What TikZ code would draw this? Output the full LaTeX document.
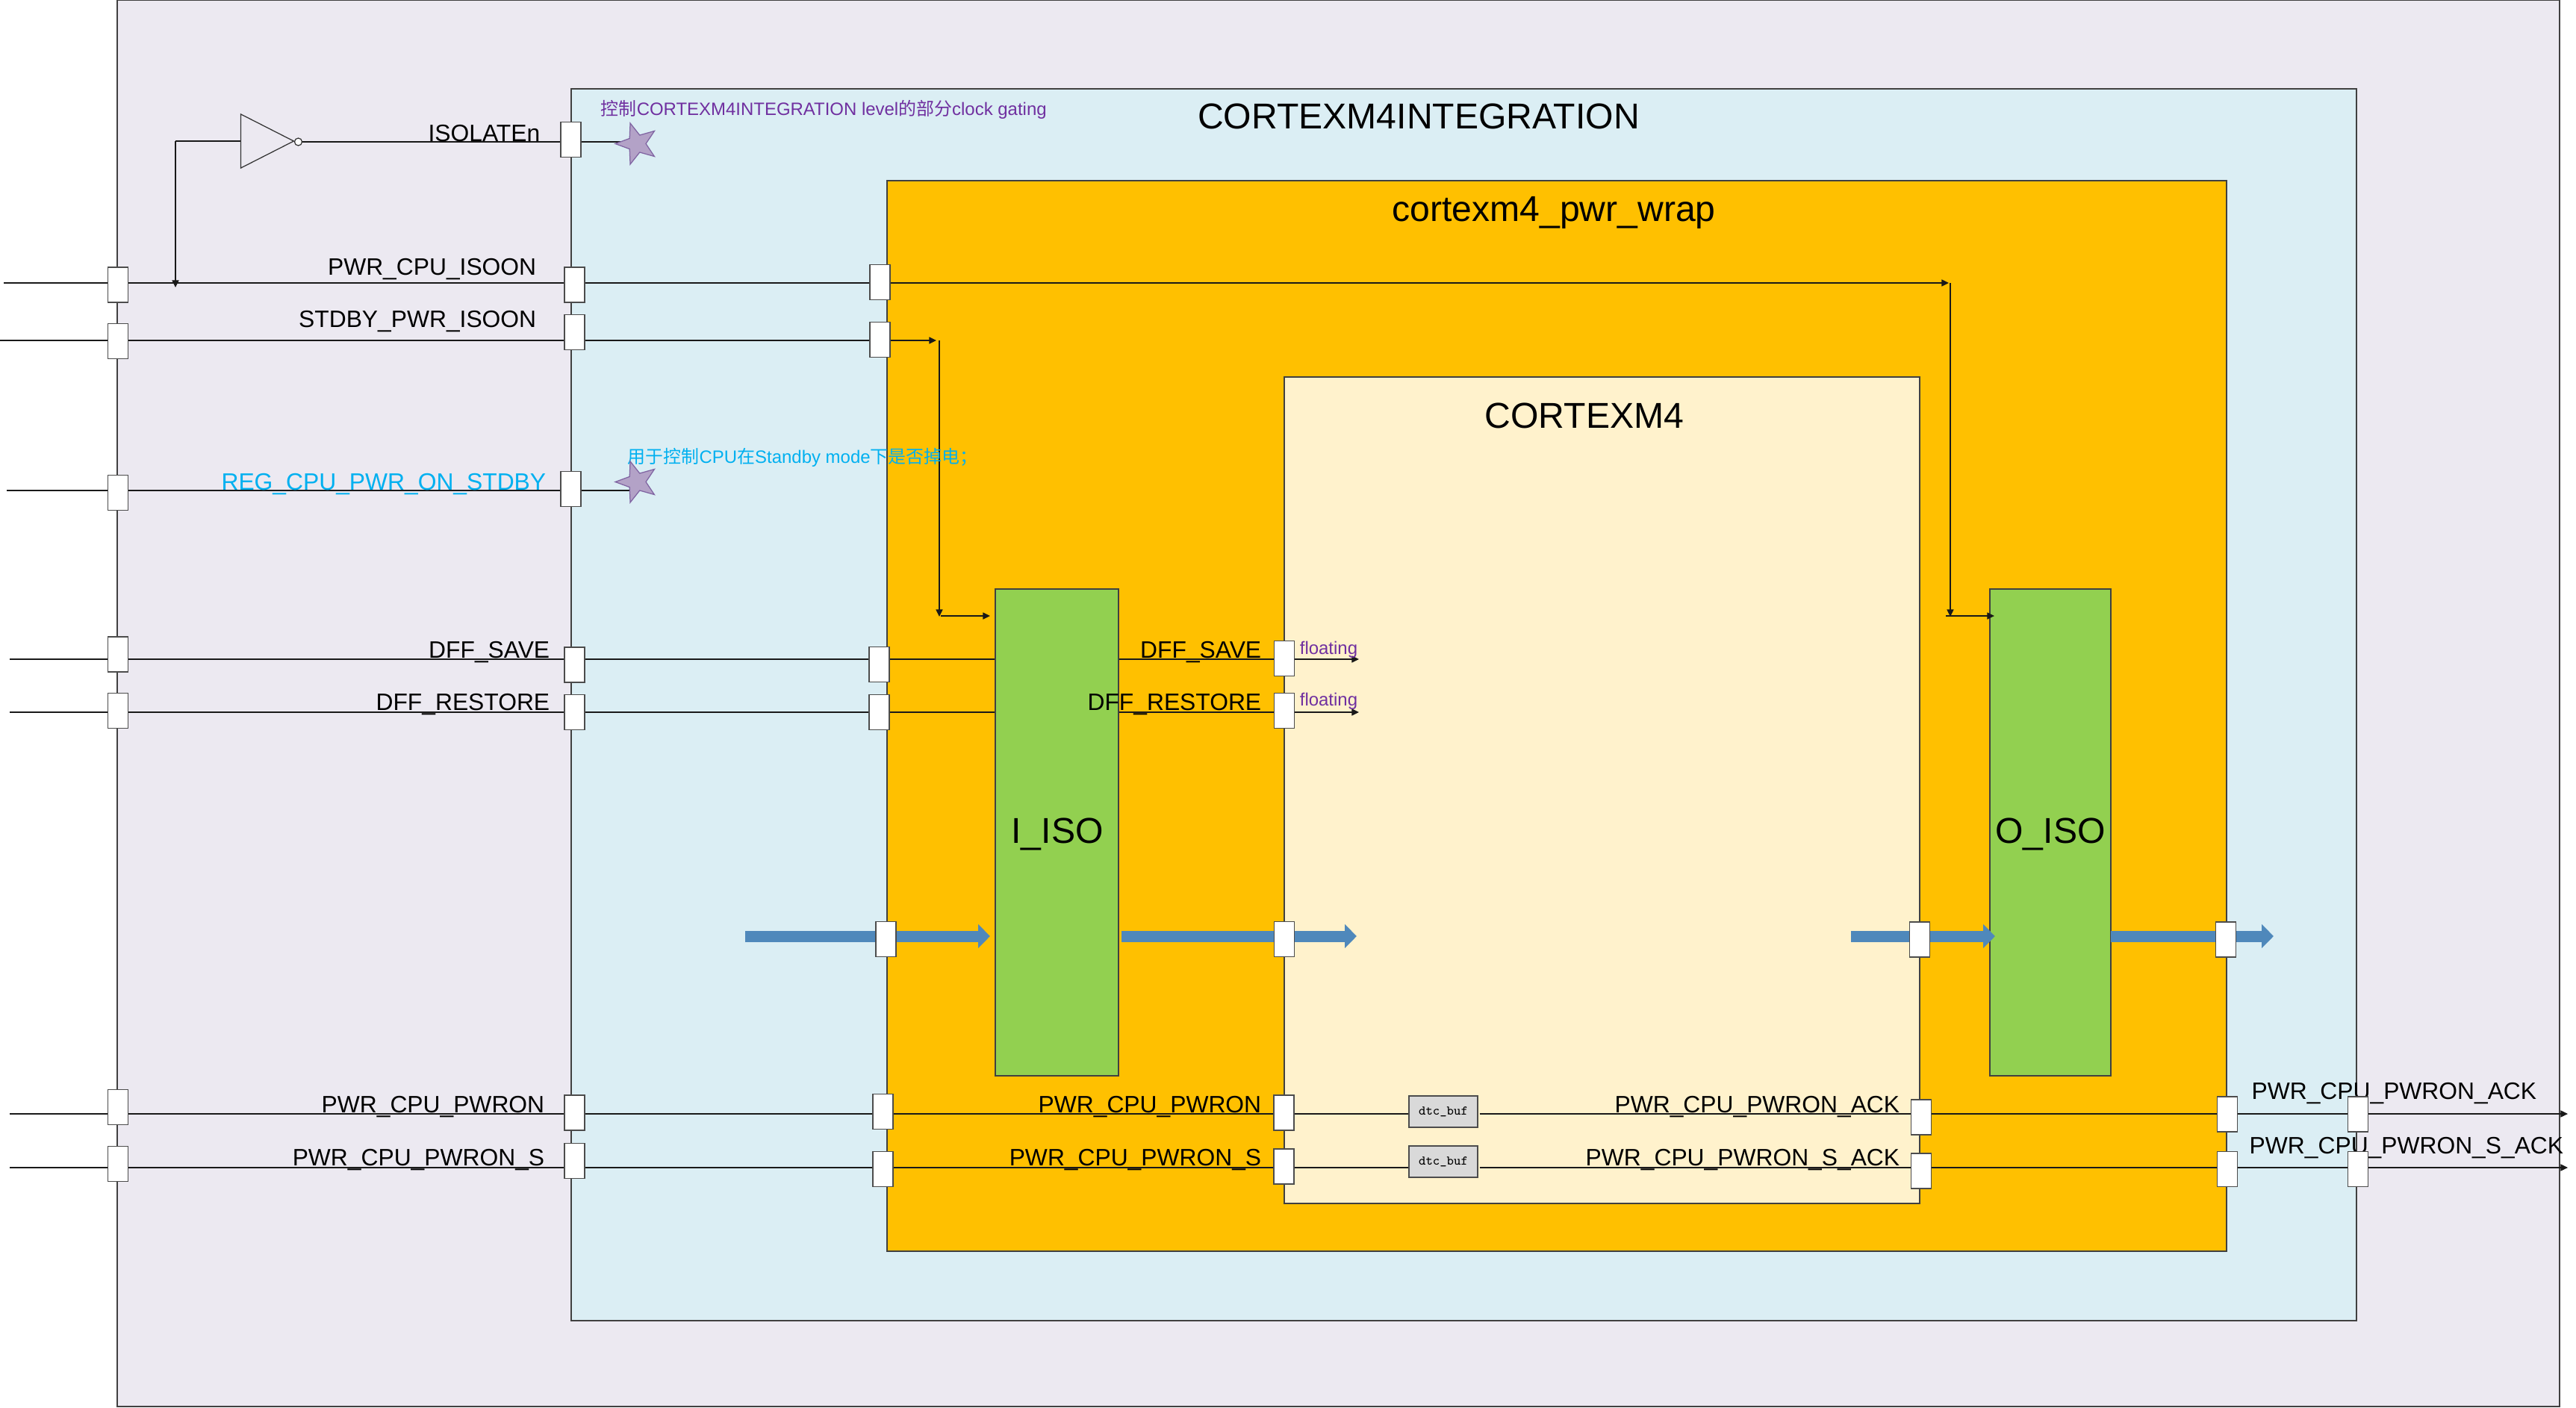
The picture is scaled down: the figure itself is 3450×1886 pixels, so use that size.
\documentclass[tikz,border=0pt]{standalone}
\usepackage{fontspec}
\setmainfont{Liberation Sans}
\newfontfamily\cjkfont{Noto Sans CJK SC}
\usetikzlibrary{arrows.meta,fit,shapes.geometric}
\definecolor{topfill}{HTML}{ECE9F1}
\definecolor{intfill}{HTML}{DBEEF4}
\definecolor{wrapfill}{HTML}{FFC000}
\definecolor{corefill}{HTML}{FFF2CC}
\definecolor{isofill}{HTML}{92D050}
\definecolor{bufill}{HTML}{D9D9D9}
\definecolor{busblue}{HTML}{4F88BB}
\definecolor{notepurple}{HTML}{7030A0}
\definecolor{notecyan}{HTML}{00B0F0}
\definecolor{starfill}{HTML}{B3A2C7}
\definecolor{starline}{HTML}{8064A2}
\newcommand{\zh}[1]{{\cjkfont #1}}
\pgfdeclarelayer{blocks}
\pgfdeclarelayer{wires}
\pgfsetlayers{blocks,wires,main}
\tikzset{
	block/.style={draw=black!75, line width=0.35pt, inner sep=0pt},
	port/.style={draw=black!70, fill=white, line width=0.35pt, inner sep=0pt, minimum width=6.5pt, minimum height=11.3pt},
	wire/.style={line width=0.26pt, black!90},
	sig/.style={font=\fontsize{7.63}{9}\selectfont, inner sep=0pt, anchor=base east},
	title/.style={font=\fontsize{11.55}{14}\selectfont, inner sep=0pt, anchor=base},
	note/.style={font=\fontsize{5.75}{7}\selectfont, inner sep=0pt, anchor=base west},
	bus/.style={line width=3.6pt, busblue, -{Triangle[length=3.8pt,width=7.4pt]}},
	mark star/.style={star, star points=5, star point ratio=2.4, shape border rotate=90, draw=starline, fill=starfill, line width=0.3pt, inner sep=0pt, minimum size=13.9pt},
	buf/.style={draw=black!70, fill=bufill, line width=0.35pt, inner sep=0pt, minimum width=22pt, minimum height=10.1pt, font=\fontsize{4.25}{5}\ttfamily},
	>={Triangle[length=2.3pt,width=2.2pt]}
}
\begin{document}
\begin{tikzpicture}[x=0.24pt,y=-0.24pt]
	\useasboundingbox (0,1) rectangle (3450,1887);
	\begin{pgfonlayer}{blocks}
		\node [block, fill=topfill, fit={(157,1)(3428,1885)}] (top) {};
		\node [block, fill=intfill, fit={(765,120)(3156,1770)}] (integration) {};
		\node [block, fill=wrapfill, fit={(1188,243)(2982,1677)}] (wrap) {};
		\node [block, fill=corefill, fit={(1720,506)(2571,1613)}] (core) {};
		\node [block, fill=isofill, fit={(1333,790)(1498,1442)}] (iiso) {};
		\node [block, fill=isofill, fit={(2665,790)(2827,1442)}] (oiso) {};
	\end{pgfonlayer}
	%%%%%%%%%%%%%
	\node [title] (tInt) at (1900,173) {CORTEXM4INTEGRATION};
	\node [title] (tWrap) at (2081,297) {cortexm4\_pwr\_wrap};
	\node [title] (tCore) at (2122,574) {CORTEXM4};
	\node [title] (tIiso) at (1416,1130) {I\_ISO};
	\node [title] (tOiso) at (2746,1130) {O\_ISO};
	%%%%%%%%%%%%%
	\node [sig] (lIsoEn) at (724,190) {ISOLATEn};
	\node [sig] (lIsoon) at (719,369) {PWR\_CPU\_ISOON};
	\node [sig] (lStdby) at (719,439) {STDBY\_PWR\_ISOON};
	\node [sig, notecyan] (lReg) at (732,657) {REG\_CPU\_PWR\_ON\_STDBY};
	\node [sig] (lSave) at (737,882) {DFF\_SAVE};
	\node [sig] (lRest) at (737,952) {DFF\_RESTORE};
	\node [sig] (lPwr) at (730,1491) {PWR\_CPU\_PWRON};
	\node [sig] (lPwrS) at (730,1562) {PWR\_CPU\_PWRON\_S};
	\node [sig] (cSave) at (1690,882) {DFF\_SAVE};
	\node [sig] (cRest) at (1690,952) {DFF\_RESTORE};
	\node [sig] (cPwr) at (1690,1491) {PWR\_CPU\_PWRON};
	\node [sig] (cPwrS) at (1690,1562) {PWR\_CPU\_PWRON\_S};
	\node [sig] (cAck) at (2545,1491) {PWR\_CPU\_PWRON\_ACK};
	\node [sig] (cAckS) at (2545,1562) {PWR\_CPU\_PWRON\_S\_ACK};
	\node [sig] (oAck) at (3398,1473) {PWR\_CPU\_PWRON\_ACK};
	\node [sig] (oAckS) at (3434,1546) {PWR\_CPU\_PWRON\_S\_ACK};
	%%%%%%%%%%%%%
	\node [note, notepurple] (nClk) at (804,155) {\zh{控制}CORTEXM4INTEGRATION level\zh{的部分}clock gating};
	\node [note, notecyan] (nStdby) at (840,621) {\zh{用于控制}CPU\zh{在}Standby mode\zh{下是否掉电；}};
	\node [note, notepurple] (nFl) at (1740,877) {floating};
	\node [note, notepurple] (nFm) at (1740,946) {floating};
	%%%%%%%%%%%%%
	\node [mark star] (starA) at (853,193.5) {};
	\node [mark star] (starB) at (853,646.5) {};
	\node [draw=black!80, isosceles triangle, isosceles triangle stretches, line width=0.3pt, inner sep=0pt, minimum width=17.3pt, minimum height=17pt, anchor=apex] (inv) at (395,190) {};
	\node [draw=black!80, fill=white, circle, line width=0.3pt, inner sep=0pt, minimum size=2.4pt] (bub) at (399.5,191) {};
	\node [buf] (bufA) at (1933,1490) {dtc\_buf};
	\node [buf] (bufB) at (1933,1557) {dtc\_buf};
	%%%%%%%%%%%%%
	\node [port] (pIsoEn) at (764.5,188) {};
	\node [port] (pIsoonL) at (158,382.5) {};
	\node [port] (pIsoonB) at (769.5,382.5) {};
	\node [port] (pIsoonO) at (1178.5,379) {};
	\node [port] (pStdbyL) at (158,458) {};
	\node [port] (pStdbyB) at (769.5,446) {};
	\node [port] (pStdbyO) at (1178.5,456) {};
	\node [port] (pRegL) at (158,661) {};
	\node [port] (pRegB) at (764.5,656) {};
	\node [port] (pSaveL) at (158,877.5) {};
	\node [port] (pSaveB) at (769.5,891.5) {};
	\node [port] (pSaveO) at (1177.5,891) {};
	\node [port] (pSaveC) at (1720,883) {};
	\node [port] (pRestL) at (158,953) {};
	\node [port] (pRestB) at (769.5,955) {};
	\node [port] (pRestO) at (1177.5,955) {};
	\node [port] (pRestC) at (1720,953) {};
	\node [port] (pBusO) at (1186.5,1259) {};
	\node [port] (pBusC) at (1720,1259) {};
	\node [port] (pBusD) at (2571,1259.5) {};
	\node [port] (pBusE) at (2981,1259.5) {};
	\node [port] (pPwrL) at (158,1484) {};
	\node [port] (pPwrB) at (769.5,1491.5) {};
	\node [port] (pPwrO) at (1182.5,1490) {};
	\node [port] (pPwrC) at (1719.5,1491.5) {};
	\node [port] (pPwrSL) at (158,1560) {};
	\node [port] (pPwrSB) at (769.5,1556) {};
	\node [port] (pPwrSO) at (1182.5,1567) {};
	\node [port] (pPwrSC) at (1719.5,1563.5) {};
	\node [port] (pAckC) at (2573,1497.5) {};
	\node [port] (pAckO) at (2983,1493.5) {};
	\node [port] (pAckB) at (3158,1493.5) {};
	\node [port] (pAckSC) at (2573,1569.5) {};
	\node [port] (pAckSO) at (2983,1567) {};
	\node [port] (pAckSB) at (3158,1567) {};
	%%%%%%%%%%%%%
	\coordinate (isoonIn) at (5,380);
	\coordinate (isoonTap) at (235,386);
	\coordinate (isoonEnd) at (2610,380);
	\coordinate (outTurn) at (2612,380);
	\coordinate (outDown) at (2612,827);
	\coordinate (outFrom) at (2606,826);
	\coordinate (outTo) at (2671,826);
	\coordinate (invIn) at (235,191);
	\coordinate (stdbyIn) at (0,457);
	\coordinate (stdbyEnd) at (1254,457);
	\coordinate (inTurn) at (1258,457);
	\coordinate (inDown) at (1258,827);
	\coordinate (inFrom) at (1260,826);
	\coordinate (inTo) at (1326,826);
	\coordinate (regIn) at (9,658);
	\coordinate (saveIn) at (13,884);
	\coordinate (saveEnd) at (1820,884);
	\coordinate (restIn) at (13,955);
	\coordinate (restEnd) at (1820,955);
	\coordinate (pwrIn) at (13,1493);
	\coordinate (pwrSIn) at (13,1565);
	\coordinate (ackOut) at (3439,1493);
	\coordinate (ackSOut) at (3439,1565);
	\coordinate (busA) at (998,1255);
	\coordinate (busATo) at (1326,1255);
	\coordinate (busB) at (1502,1255);
	\coordinate (busBTo) at (1817,1255);
	\coordinate (busC) at (2479,1255);
	\coordinate (busCTo) at (2672,1255);
	\coordinate (busD) at (2827,1255);
	\coordinate (busDTo) at (3045,1255);
	%%%%%%%%%%%%%
	\begin{pgfonlayer}{wires}
		\draw [wire] (bub.east) -- (bub.east -| pIsoEn.center) -- (bub.east -| starA.center);
		\draw [wire] (inv.lower side) to (inv.lower side -| invIn);
		\draw [wire, ->] (inv.lower side -| invIn) to (isoonTap);
		\draw [wire, ->] (isoonIn) -- (isoonIn -| pIsoonL.center) -- (isoonIn -| pIsoonB.center) -- (isoonIn -| pIsoonO.center) -- (isoonEnd);
		\draw [wire, ->] (outTurn) to (outDown);
		\draw [wire, ->] (outFrom) to (outTo);
		\draw [wire, ->] (stdbyIn) -- (stdbyIn -| pStdbyL.center) -- (stdbyIn -| pStdbyB.center) -- (stdbyIn -| pStdbyO.center) -- (stdbyEnd);
		\draw [wire, ->] (inTurn) to (inDown);
		\draw [wire, ->] (inFrom) to (inTo);
		\draw [wire] (regIn) -- (regIn -| pRegL.center) -- (regIn -| pRegB.center) -- (regIn -| starB.center);
		%%%%%%%%%%%%%
		\draw [wire] (saveIn) -- (saveIn -| pSaveL.center) -- (saveIn -| pSaveB.center) -- (saveIn -| pSaveO.center) -- (saveIn -| iiso.west);
		\draw [wire, ->] (saveIn -| iiso.east) -- (saveIn -| pSaveC.center) -- (saveEnd);
		\draw [wire] (restIn) -- (restIn -| pRestL.center) -- (restIn -| pRestB.center) -- (restIn -| pRestO.center) -- (restIn -| iiso.west);
		\draw [wire, ->] (restIn -| iiso.east) -- (restIn -| pRestC.center) -- (restEnd);
		%%%%%%%%%%%%%
		\draw [wire] (pwrIn) -- (pwrIn -| pPwrL.center) -- (pwrIn -| pPwrB.center) -- (pwrIn -| pPwrO.center) -- (pwrIn -| pPwrC.center) -- (pwrIn -| bufA.west);
		\draw [wire, ->] (pwrIn -| bufA.east) ++(2,0) -- (pwrIn -| pAckC.center) -- (pwrIn -| pAckO.center) -- (pwrIn -| pAckB.center) -- (ackOut);
		\draw [wire] (pwrSIn) -- (pwrSIn -| pPwrSL.center) -- (pwrSIn -| pPwrSB.center) -- (pwrSIn -| pPwrSO.center) -- (pwrSIn -| pPwrSC.center) -- (pwrSIn -| bufB.west);
		\draw [wire, ->] (pwrSIn -| bufB.east) ++(2,0) -- (pwrSIn -| pAckSC.center) -- (pwrSIn -| pAckSO.center) -- (pwrSIn -| pAckSB.center) -- (ackSOut);
		%%%%%%%%%%%%%
		\draw [bus] (busA) to (busATo);
		\draw [bus] (busB) to (busBTo);
		\draw [bus] (busC) to (busCTo);
		\draw [bus] (busD) to (busDTo);
	\end{pgfonlayer}
\end{tikzpicture}
\end{document}
